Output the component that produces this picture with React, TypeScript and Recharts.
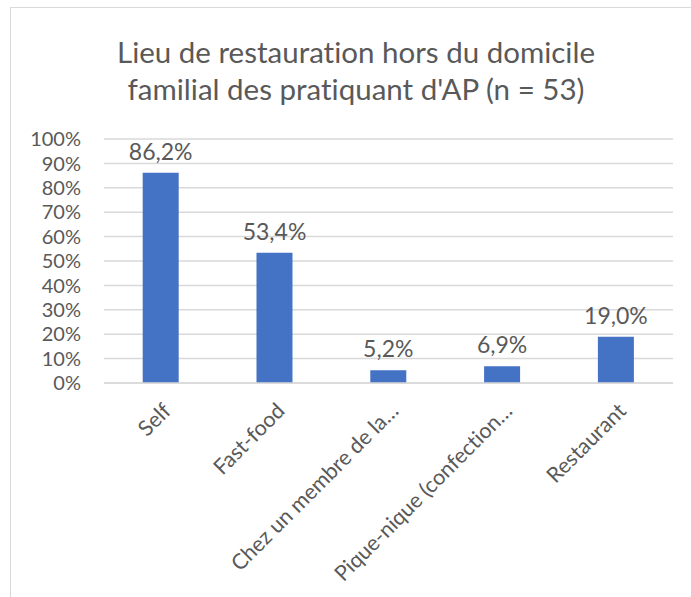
import React from "react";
import { BarChart, Bar, XAxis, YAxis, CartesianGrid, LabelList } from "recharts";

const categories = [
  "Self",
  "Fast-food",
  "Chez un membre de la…",
  "Pique-nique (confection…",
  "Restaurant",
];
const values = [0.862, 0.534, 0.052, 0.069, 0.19];
const yTicks = [0, 0.1, 0.2, 0.3, 0.4, 0.5, 0.6, 0.7, 0.8, 0.9, 1];
const titleLines = [
  "Lieu de restauration hors du domicile",
  "familial des pratiquant d'AP (n = 53)",
];

const data = categories.map((c, i) => ({ name: c, value: values[i] }));

const FONT = "Lato, 'Open Sans', sans-serif";
const TEXT = "#595959";

const pct = (v: number) => `${Math.round(v * 100)}%`;
const pct1 = (v: number) => `${(v * 100).toFixed(1).replace(".", ",")}%`;

const CatTick = (props: any) => {
  const { x, y, payload } = props;
  return (
    <g transform={`translate(${x + 6},${y + 16})`}>
      <text
        x={0}
        y={0}
        dy="0.35em"
        textAnchor="end"
        transform="rotate(-45)"
        fill={TEXT}
        fontSize={21.5}
        fontFamily={FONT}
        style={{ fontVariantLigatures: "none" }}
      >
        {payload.value}
      </text>
    </g>
  );
};

export default function App() {
  return (
    <div
      style={{
        position: "absolute",
        left: 0,
        top: 0,
        width: 691,
        height: 597,
        overflow: "hidden",
        background: "#fff",
      }}
    >
      <div
        style={{
          position: "absolute",
          left: 10,
          top: 7,
          width: 720,
          height: 620,
          border: "1.5px solid #d9d9d9",
          boxSizing: "border-box",
        }}
      />
      <div
        style={{
          position: "absolute",
          left: 0,
          top: 33,
          width: 712,
          textAlign: "center",
          fontFamily: FONT,
          fontSize: 29.5,
          lineHeight: "37px",
          color: TEXT,
          fontVariantLigatures: "none",
        }}
      >
        {titleLines.map((t) => (
          <div key={t}>{t}</div>
        ))}
      </div>
      <div style={{ position: "absolute", left: 0, top: 0 }}>
        <BarChart
          width={691}
          height={597}
          data={data}
          margin={{ top: 139, right: 18, bottom: 0, left: 0 }}
          barCategoryGap="34%"
        >
          <CartesianGrid
            vertical={false}
            stroke="#d9d9d9"
            strokeWidth={1.5}
          />
          <XAxis
            dataKey="name"
            interval={0}
            height={214}
            tick={<CatTick />}
            tickLine={false}
            axisLine={{ stroke: "#d9d9d9", strokeWidth: 1.5 }}
          />
          <YAxis
            width={104}
            domain={[0, 1]}
            ticks={yTicks}
            interval={0}
            tickFormatter={pct}
            tickLine={false}
            axisLine={false}
            tickSize={0}
            tickMargin={23}
            tick={{ fill: TEXT, fontSize: 20, fontFamily: FONT }}
          />
          <Bar dataKey="value" fill="#4472C4" isAnimationActive={false}>
            <LabelList
              dataKey="value"
              position="top"
              offset={13}
              formatter={(v: any) => pct1(Number(v))}
              fill={TEXT}
              fontSize={23}
              fontFamily={FONT}
            />
          </Bar>
        </BarChart>
      </div>
    </div>
  );
}
